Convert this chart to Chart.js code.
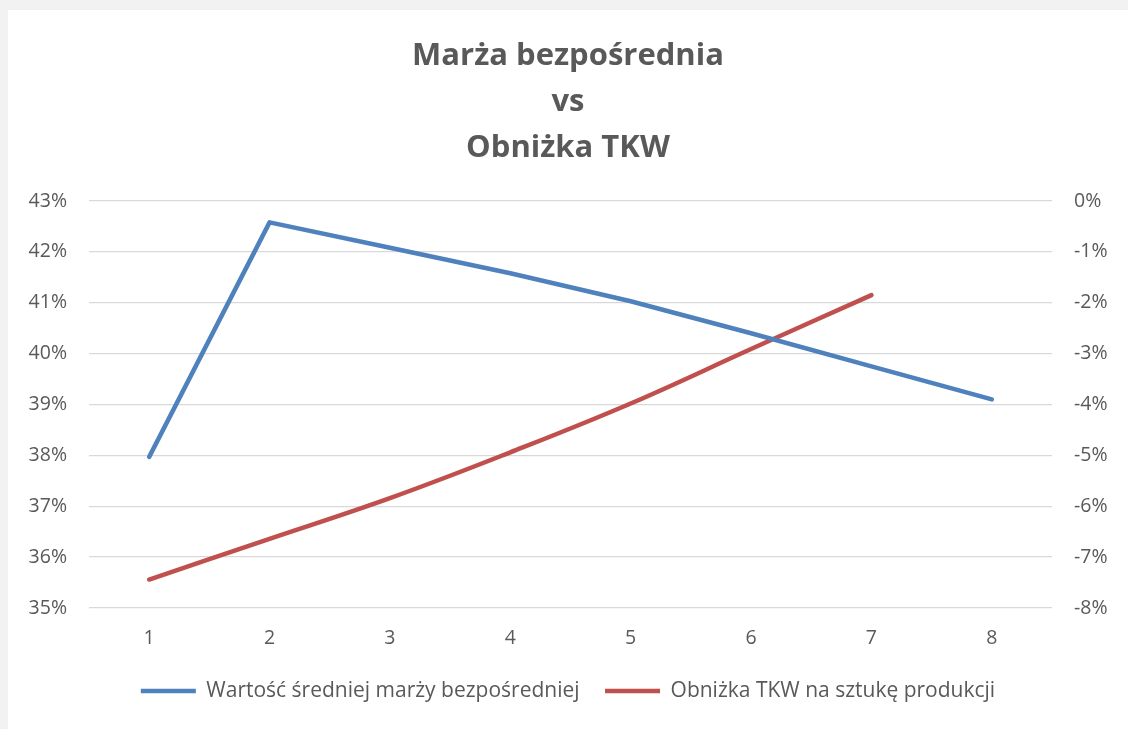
<!DOCTYPE html>
<html lang="pl">
<head>
<meta charset="utf-8">
<title>Marża bezpośrednia vs Obniżka TKW</title>
<script src="https://cdn.jsdelivr.net/npm/chart.js@4/dist/chart.umd.min.js"></script>
<style>
  html, body { margin: 0; padding: 0; background: #f2f2f2; }
  #wrap { position: absolute; left: 8px; top: 10px; width: 1120px; height: 719px; background: #ffffff; }
</style>
</head>
<body>
<div id="wrap"><canvas id="chart" width="1120" height="719"></canvas></div>
<script>
// Dane
const categories = ['1', '2', '3', '4', '5', '6', '7', '8'];
const marza = [37.97, 42.58, 42.08, 41.58, 41.03, 40.40, 39.75, 39.10];
const obnizka = [-7.44, -6.64, -5.84, -4.94, -3.98, -2.91, -1.85, null];
const titleLines = ['Marża bezpośrednia', 'vs', 'Obniżka TKW'];
const seriesNames = ['Wartość średniej marży bezpośredniej', 'Obniżka TKW na sztukę produkcji'];

const GRAY = '#595959';
const FONT = '"Open Sans", sans-serif';

new Chart(document.getElementById('chart'), {
  type: 'line',
  data: {
    labels: categories,
    datasets: [
      {
        label: seriesNames[0],
        data: marza,
        yAxisID: 'y',
        borderColor: '#4F81BD',
        backgroundColor: '#4F81BD',
        borderWidth: 4.5,
        borderCapStyle: 'round',
        borderJoinStyle: 'round',
        pointRadius: 0,
        tension: 0,
        fill: false
      },
      {
        label: seriesNames[1],
        data: obnizka,
        yAxisID: 'y2',
        borderColor: '#C0504D',
        backgroundColor: '#C0504D',
        borderWidth: 4.5,
        borderCapStyle: 'round',
        borderJoinStyle: 'round',
        pointRadius: 0,
        tension: 0.4,
        fill: false
      }
    ]
  },
  options: {
    responsive: false,
    animation: false,
    layout: { padding: { left: 0, right: 0, top: 0, bottom: 17.5 } },
    scales: {
      x: {
        type: 'category',
        offset: true,
        grid: { display: false, drawTicks: false },
        border: { display: false },
        ticks: { color: GRAY, font: { family: FONT, size: 19.5 }, padding: 19, maxRotation: 0 },
        afterFit: (s) => { s.height = 47; }
      },
      y: {
        position: 'left',
        min: 35, max: 43,
        grid: { color: '#D9D9D9', lineWidth: 1.3, drawTicks: false },
        border: { display: false },
        ticks: { stepSize: 1, color: GRAY, padding: 22, font: { family: FONT, size: 19.5 }, callback: v => v + '%' },
        afterFit: (s) => { s.width = 81; }
      },
      y2: {
        position: 'right',
        min: -8, max: 0,
        grid: { display: false, drawTicks: false },
        border: { display: false },
        ticks: { stepSize: 1, color: GRAY, padding: 22, font: { family: FONT, size: 19.5 }, callback: v => v + '%' },
        afterFit: (s) => { s.width = 76; }
      }
    },
    plugins: {
      title: {
        display: true,
        text: titleLines,
        color: GRAY,
        font: { family: FONT, size: 31, weight: 'bold', lineHeight: 46 / 31 },
        padding: { top: 23, bottom: 30 }
      },
      legend: {
        position: 'bottom',
        labels: {
          color: GRAY,
          font: { family: FONT, size: 21 },
          usePointStyle: true,
          pointStyle: 'line',
          pointStyleWidth: 55,
          padding: 25.5
        }
      },
      tooltip: { enabled: false }
    }
  }
});
</script>
</body>
</html>
